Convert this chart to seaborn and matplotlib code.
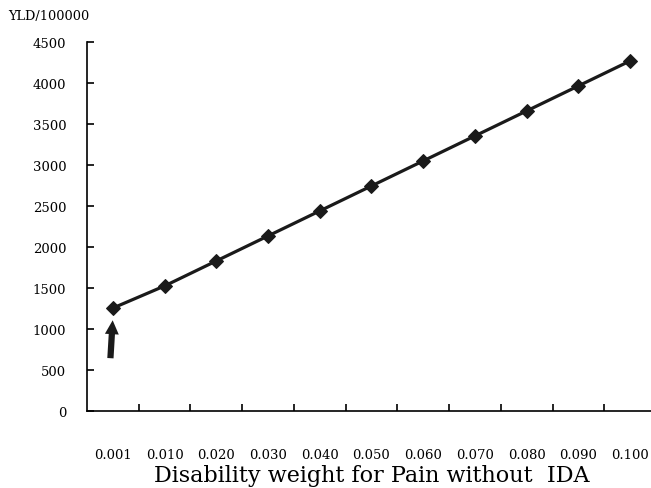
import numpy as np
import pandas as pd
import seaborn as sns
import matplotlib.pyplot as plt
from matplotlib.ticker import FixedLocator

weights = ['0.001', '0.010', '0.020', '0.030', '0.040', '0.050',
           '0.060', '0.070', '0.080', '0.090', '0.100']
yld = [1255, 1525, 1830, 2135, 2440, 2745, 3050, 3355, 3660, 3965, 4270]
y_ticks = [0, 500, 1000, 1500, 2000, 2500, 3000, 3500, 4000, 4500]

df = pd.DataFrame({'weight': weights, 'yld': yld})

sns.set_style('white')
plt.rcParams['font.family'] = ['DejaVu Serif']
plt.rcParams['text.color'] = 'black'
plt.rcParams['axes.labelcolor'] = 'black'
plt.rcParams['xtick.color'] = 'black'
plt.rcParams['ytick.color'] = 'black'

fig = plt.figure(figsize=(6.51, 4.89), dpi=100)
ax = fig.add_axes([0.1336, 0.1575, 0.8741, 0.7545])

sns.lineplot(data=df, x='weight', y='yld', sort=False, ax=ax,
             color='#1a1a1a', linewidth=2.3, marker='D', markersize=7,
             markeredgecolor='#1a1a1a')

ax.set_xlim(-0.5, len(weights) - 0.5)
ax.set_ylim(0, 4500)
ax.set_yticks(y_ticks)
ax.set_yticklabels([str(v) for v in y_ticks], fontsize=9.5)
ax.set_xticks(range(len(weights)))
ax.set_xticklabels(weights, fontsize=9.5)
ax.xaxis.set_minor_locator(FixedLocator(np.arange(0.5, len(weights) - 1, 1.0)))
ax.tick_params(axis='x', which='major', bottom=True, length=0, pad=27)
ax.tick_params(axis='x', which='minor', bottom=True, direction='in', length=5, width=1.2)
ax.tick_params(axis='y', which='major', left=True, direction='in', length=5, width=1.2, pad=15)

for side in ['top', 'right']:
    ax.spines[side].set_visible(False)
for side in ['left', 'bottom']:
    ax.spines[side].set_color('black')
    ax.spines[side].set_linewidth(1.2)

ax.set_xlabel('Disability weight for Pain without  IDA', fontsize=16, labelpad=2)
ax.set_ylabel('')
fig.text(0.012, 0.966, 'YLD/100000', fontsize=9.3, ha='left', va='center')

# arrow pointing at the first point
ax.annotate('', xy=(0.0, 1140), xytext=(-0.05, 610),
            arrowprops=dict(arrowstyle='simple,head_length=1.0,head_width=1.0,tail_width=0.45',
                            color='#1a1a1a', lw=0, mutation_scale=10))

fig.savefig('out.png', dpi=100)
